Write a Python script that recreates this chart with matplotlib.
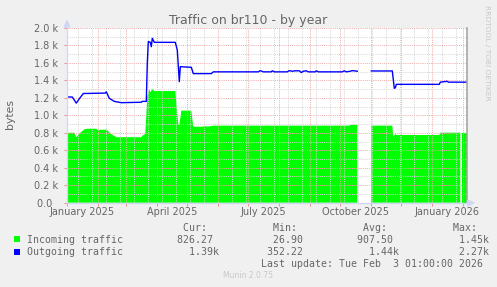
import numpy as np
import pandas as pd
import matplotlib
matplotlib.use('Agg')
import matplotlib.pyplot as plt
import matplotlib.dates as mdates
from matplotlib.ticker import FuncFormatter, MultipleLocator, FixedLocator, NullFormatter
from matplotlib.patches import Rectangle, Polygon

nan = float('nan')

# incoming traffic (bytes), green area
in_dates = ['2024-12-31 10:00', '2025-01-08', '2025-01-10', '2025-01-13', '2025-01-18',
            '2025-01-21', '2025-01-30', '2025-01-31', '2025-02-10', '2025-02-12',
            '2025-02-17', '2025-02-19', '2025-03-16', '2025-03-17', '2025-03-20',
            '2025-03-22', '2025-03-24', '2025-03-25', '2025-03-27', '2025-03-29',
            '2025-04-19', '2025-04-21', '2025-04-22', '2025-04-23', '2025-04-24',
            '2025-04-25', '2025-05-05', '2025-05-07', '2025-05-16', '2025-05-18',
            '2025-05-22', '2025-05-27', '2025-10-10', '2025-10-11', '2025-10-18',
            '2025-10-24', '2025-11-01', '2025-11-22', '2025-11-23', '2025-11-25',
            '2025-11-26', '2026-01-08', '2026-01-09', '2026-01-29', '2026-01-30',
            '2026-01-31', '2026-02-04 09:00']
in_bytes = [801, 801, 749, 790, 840,
            847, 847, 835, 835, 801,
            764, 750, 750, 767, 787,
            1214, 1298, 1265, 1300, 1279,
            1279, 1023, 900, 890, 966,
            1054, 1054, 870, 870, 876,
            872, 882, 882, 892, 892,
            nan, 882, 882, 756, 787,
            775, 775, 802, 802, nan,
            802, 802]

# outgoing traffic (bytes), blue line
out_dates = ['2024-12-31 10:00', '2025-01-06', '2025-01-10', '2025-01-13', '2025-01-17',
             '2025-02-08', '2025-02-09', '2025-02-12', '2025-02-17', '2025-02-24',
             '2025-03-16', '2025-03-17', '2025-03-21', '2025-03-22', '2025-03-23',
             '2025-03-25', '2025-03-26', '2025-03-27', '2025-03-29', '2025-04-19',
             '2025-04-21', '2025-04-23', '2025-04-24', '2025-05-05', '2025-05-07',
             '2025-05-25', '2025-05-27', '2025-07-11', '2025-07-13', '2025-07-16',
             '2025-07-24', '2025-07-25', '2025-07-27', '2025-08-09', '2025-08-11',
             '2025-08-14', '2025-08-17', '2025-08-21', '2025-08-23', '2025-08-25',
             '2025-08-28', '2025-08-30', '2025-09-06', '2025-09-07', '2025-09-09',
             '2025-10-03', '2025-10-05', '2025-10-07', '2025-10-11', '2025-10-13',
             '2025-10-18', '2025-10-24', '2025-11-01', '2025-11-22', '2025-11-24',
             '2025-11-25', '2025-11-26', '2026-01-08', '2026-01-09', '2026-01-16',
             '2026-01-17', '2026-02-04 09:00']
out_bytes = [1210, 1210, 1140, 1190, 1250,
             1255, 1270, 1195, 1160, 1145,
             1150, 1160, 1160, 1600, 1845,
             1836, 1786, 1882, 1836, 1836,
             1748, 1385, 1557, 1550, 1478,
             1478, 1498, 1498, 1512, 1498,
             1498, 1510, 1498, 1498, 1512,
             1505, 1510, 1510, 1490, 1505,
             1510, 1498, 1498, 1510, 1498,
             1498, 1510, 1498, 1505, 1512,
             1505, nan, 1508, 1508, 1310,
             1315, 1355, 1355, 1380, 1390,
             1380, 1380]

label_dates = ['2025-01-16', '2025-04-16', '2025-07-16', '2025-10-16', '2026-01-16']
label_text = ['January 2025', 'April 2025', 'July 2025', 'October 2025', 'January 2026']

legend_names = ['Incoming traffic', 'Outgoing traffic']
legend_colors = ['#00FF00', '#0000FF']
cur_vals = ['826.27', '1.39k']
min_vals = ['26.90', '352.22']
avg_vals = ['907.50', '1.44k']
max_vals = ['1.45k', '2.27k']

W, H = 497, 287
L, R, T, B = 66.7, 466.7, 28.0, 202.7
FONT = '#666666'
MGRID = '#F0A8A8'
GRID = '#D4D4D4'
AXIS = '#CFD6F8'


def fx(x):
    return x / W


def fy(y):
    return 1 - y / H


fig = plt.figure(figsize=(W / 100, H / 100), dpi=100)
fig.patch.set_facecolor('#F0F0F0')
ax = fig.add_axes([fx(L), fy(B), (R - L) / W, (B - T) / H])
ax.set_facecolor('white')

in_t = pd.to_datetime(in_dates, format='ISO8601')
out_t = pd.to_datetime(out_dates, format='ISO8601')
ax.fill_between(in_t, 0, np.array(in_bytes, dtype=float), color='#00FF00', linewidth=0, zorder=1)
ax.plot(out_t, out_bytes, color='#0000FF', linewidth=1.0, zorder=3)

t0 = pd.Timestamp('2024-12-31 09:36')
ax.set_xlim(t0, t0 + pd.Timedelta(days=400))
ax.set_ylim(0, 2000)

ax.set_axisbelow(False)
ax.yaxis.set_major_locator(MultipleLocator(200))
ax.yaxis.set_minor_locator(MultipleLocator(100))
ax.yaxis.set_major_formatter(FuncFormatter(lambda v, p: '0.0  ' if v == 0 else f'{v / 1000:.1f} k'))
ax.xaxis.set_major_locator(mdates.MonthLocator())
ax.xaxis.set_major_formatter(NullFormatter())
grid_days = pd.date_range('2025-01-12', periods=29, freq='14D')
ax.xaxis.set_minor_locator(FixedLocator(mdates.date2num(grid_days)))

ax.grid(which='major', color=MGRID, linestyle=(0, (1, 1.2)), linewidth=0.7)
ax.grid(which='minor', color=GRID, linestyle=(0, (1, 1.2)), linewidth=0.7)
ax.tick_params(which='major', length=2.5, width=0.75, color='#F09090', labelsize=7, labelcolor=FONT)
ax.tick_params(axis='y', pad=3.5)
ax.tick_params(which='minor', length=0)

for s in ['top', 'right']:
    ax.spines[s].set_visible(False)
for s in ['left', 'bottom']:
    ax.spines[s].set_color(AXIS)
    ax.spines[s].set_linewidth(0.9)
    ax.spines[s].set_zorder(4)

ax.axvline(ax.get_xlim()[1], color='#A0A0A0', linewidth=1.1, clip_on=False, zorder=4)

sec = ax.secondary_xaxis('bottom')
sec.set_xticks(mdates.date2num(pd.to_datetime(label_dates)), labels=label_text)
sec.tick_params(length=0, pad=3.3, labelsize=7, labelcolor=FONT)
sec.spines['bottom'].set_visible(False)

# axis arrows
fig.patches.append(Polygon([(fx(67.0), fy(20.5)), (fx(64.2), fy(27)), (fx(69.8), fy(27))],
                           closed=True, transform=fig.transFigure, color=AXIS, zorder=5))
fig.patches.append(Polygon([(fx(474), fy(202.9)), (fx(467.5), fy(200.1)), (fx(467.5), fy(205.7))],
                           closed=True, transform=fig.transFigure, color=AXIS, zorder=5))

fig.text(fx(248), fy(24), 'Traffic on br110 - by year', ha='center', va='baseline',
         fontsize=9, color=FONT)
fig.text(fx(10), fy(114), 'bytes', rotation=90, ha='center', va='center', fontsize=7.8, color=FONT)
fig.text(fx(487), fy(53), 'RRDTOOL / TOBI OETIKER', rotation=270, ha='center', va='center',
         fontsize=5.4, color='#C8C8C8')

# legend block (munin style, monospaced columns)
mono = 'DejaVu Sans Mono'
header = ' ' * 25 + ''.join((' ' + h).ljust(15) for h in ['Cur:', 'Min:', 'Avg:', 'Max:'])
fig.text(fx(26.7), fy(230.7), header.rstrip(), family=mono, fontsize=7.1, color=FONT, va='baseline')


def field(s):
    s = s if s.endswith('k') else s + ' '
    return s.rjust(7).ljust(15)


for i, name in enumerate(legend_names):
    yb = 242.7 + i * 12.3
    fig.patches.append(Rectangle((fx(14), fy(yb - 0.5)), 6 / W, 6 / H, transform=fig.transFigure,
                                 facecolor=legend_colors[i], edgecolor='none'))
    row = name.ljust(25) + field(cur_vals[i]) + field(min_vals[i]) + field(avg_vals[i]) + field(max_vals[i])
    fig.text(fx(26.7), fy(yb), row.rstrip(), family=mono, fontsize=7.1, color=FONT, va='baseline')

fig.text(fx(482.7), fy(267), 'Last update: Tue Feb  3 01:00:00 2026', family=mono, fontsize=7.1,
         color=FONT, ha='right', va='baseline')
fig.text(fx(248), fy(276), 'Munin 2.0.75', ha='center', va='center', fontsize=5.5, color='#C8C8C8')

fig.savefig('out.png', dpi=100, facecolor=fig.get_facecolor())
